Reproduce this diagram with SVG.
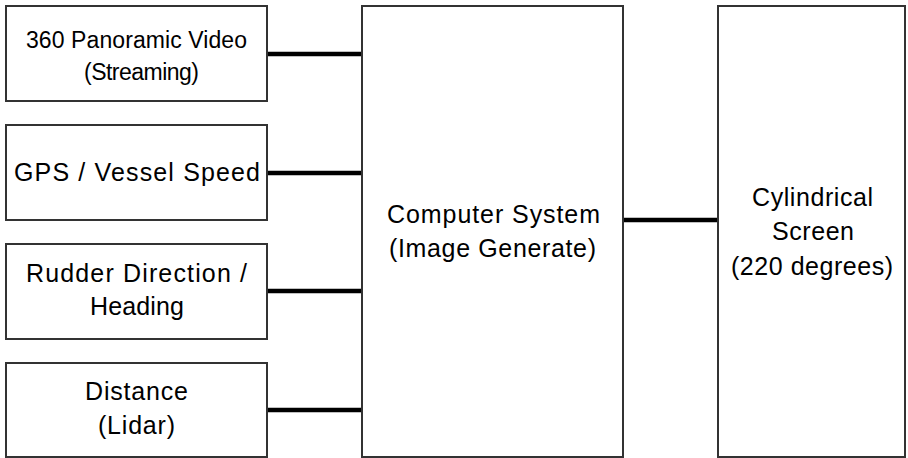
<svg xmlns="http://www.w3.org/2000/svg" width="908" height="458" viewBox="0 0 908 458">
  <style>
    .box { fill: #ffffff; stroke: #333333; stroke-width: 2; }
    .lbl { font-family: "Liberation Sans", Arial, sans-serif; font-size: 25px; fill: #000000; text-anchor: middle; }
    .sm { font-size: 23px; }
    .wire { stroke: #000000; stroke-width: 4.5; fill: none; }
  </style>
  <rect x="0" y="0" width="908" height="458" fill="#ffffff"/>

  <g id="connectors">
    <line class="wire" x1="267" y1="54" x2="362" y2="54"/>
    <line class="wire" x1="267" y1="173" x2="362" y2="173"/>
    <line class="wire" x1="267" y1="291" x2="362" y2="291"/>
    <line class="wire" x1="267" y1="410" x2="362" y2="410"/>
    <line class="wire" x1="623" y1="220" x2="718" y2="220"/>
  </g>

  <g id="panoramic-video">
    <rect class="box" x="6" y="6" width="261" height="95"/>
    <text class="lbl sm" x="136.5" y="48" textLength="221">360 Panoramic Video</text>
    <text class="lbl sm" x="141.5" y="80" textLength="115">(Streaming)</text>
  </g>

  <g id="gps-speed">
    <rect class="box" x="6" y="125" width="261" height="95"/>
    <text class="lbl" x="137" y="181" textLength="246">GPS / Vessel Speed</text>
  </g>

  <g id="rudder-heading">
    <rect class="box" x="6" y="244" width="261" height="95"/>
    <text class="lbl" x="136.5" y="282" textLength="221">Rudder Direction /</text>
    <text class="lbl" x="137" y="315" textLength="94">Heading</text>
  </g>

  <g id="distance-lidar">
    <rect class="box" x="6" y="363" width="261" height="94"/>
    <text class="lbl" x="136.5" y="400" textLength="103">Distance</text>
    <text class="lbl" x="136.5" y="434" textLength="77">(Lidar)</text>
  </g>

  <g id="computer-system">
    <rect class="box" x="362" y="6" width="261" height="451"/>
    <text class="lbl" x="493.5" y="223" textLength="213">Computer System</text>
    <text class="lbl" x="492.5" y="257" textLength="207">(Image Generate)</text>
  </g>

  <g id="cylindrical-screen">
    <rect class="box" x="718" y="6" width="187" height="451"/>
    <text class="lbl" x="812.5" y="206" textLength="121">Cylindrical</text>
    <text class="lbl" x="813" y="240" textLength="82">Screen</text>
    <text class="lbl" x="812" y="275" textLength="162">(220 degrees)</text>
  </g>
</svg>
